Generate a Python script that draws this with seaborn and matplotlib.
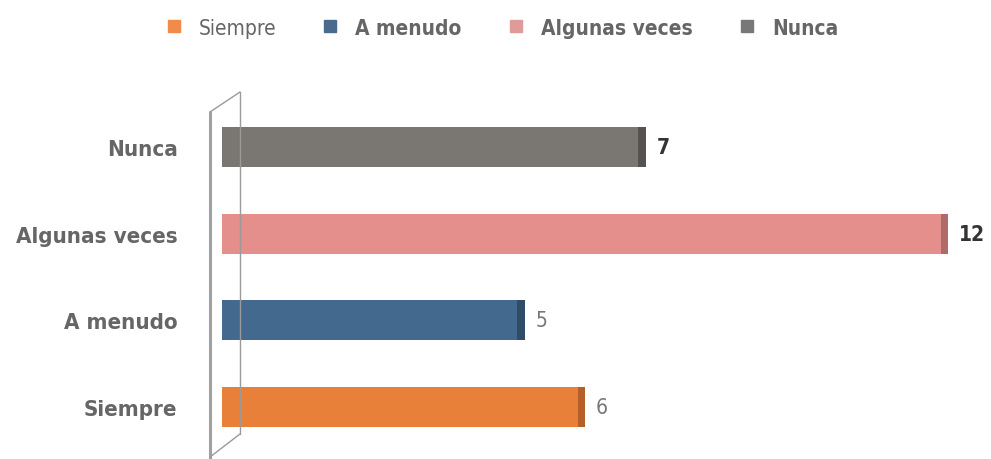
import matplotlib
matplotlib.use("Agg")
import matplotlib.pyplot as plt
from matplotlib.lines import Line2D
import seaborn as sns
import pandas as pd

# Data (top to bottom as drawn)
categories = ["Nunca", "Algunas veces", "A menudo", "Siempre"]
values = [7, 12, 5, 6]
legend_order = ["Siempre", "A menudo", "Algunas veces", "Nunca"]

bar_colors = {"Siempre": "#E8803A", "A menudo": "#44698E",
              "Algunas veces": "#E48F8C", "Nunca": "#7A7672"}
side_colors = {"Siempre": "#B5602A", "A menudo": "#2F4B66",
               "Algunas veces": "#B06A68", "Nunca": "#55524F"}
legend_colors = {"Siempre": "#F28A4B", "A menudo": "#4A6C8C",
                 "Algunas veces": "#E09A98", "Nunca": "#787878"}

sns.set_style("white")
plt.rcParams["font.family"] = ["DejaVu Sans"]
plt.rcParams["font.stretch"] = "condensed"

df = pd.DataFrame({"categoria": categories, "valor": values})

fig = plt.figure(figsize=(9.91, 4.6), dpi=100)
ax = fig.add_axes([222 / 991, 0.0, 1 - 222 / 991 - 0.02, 1 - 96 / 460])

bar_h = 0.46
sns.barplot(data=df, y="categoria", x="valor", hue="categoria", order=categories,
            palette=bar_colors, width=bar_h, legend=False, ax=ax, saturation=1,
            linewidth=0)

# darker end face to fake the 3D look
dx = 0.12
for i, (cat, v) in enumerate(zip(categories, values)):
    ax.barh(i, dx, left=v - dx, height=bar_h, color=side_colors[cat],
            linewidth=0, zorder=3)
    bold = v in (7, 12)
    ax.text(v + 0.18, i, str(v), va="center", ha="left", fontsize=15,
            color="#333333" if bold else "#777777",
            fontweight="bold" if bold else "normal")

ax.set_xlim(0, (991 - 222 - 0.02 * 991) / 60.5)
ax.set_ylim(3.6, -0.6)
ax.set_xlabel("")
ax.set_ylabel("")
ax.set_xticks([])
ax.tick_params(axis="y", length=0, pad=32, labelsize=16, labelcolor="#666666")
for lbl in ax.get_yticklabels():
    lbl.set_fontweight("bold")
for s in ax.spines.values():
    s.set_visible(False)

# back wall lines
def fig_line(x0, y0, x1, y1, lw, c):
    fig.add_artist(Line2D([x0 / 991, x1 / 991], [1 - y0 / 460, 1 - y1 / 460],
                          lw=lw, color=c, transform=fig.transFigure))

fig_line(210, 113, 210, 460, 2.2, "#A0A0A0")
fig_line(240, 93, 240, 435, 1.0, "#9A9A9A")
fig_line(210, 113, 240, 93, 1.0, "#9A9A9A")
fig_line(240, 435, 210, 458, 1.0, "#9A9A9A")

handles = [Line2D([], [], marker="s", linestyle="", markersize=9,
                  color=legend_colors[c]) for c in legend_order]
leg = fig.legend(handles, legend_order, loc="upper center", bbox_to_anchor=(0.5, 1.0),
                 ncol=4, frameon=False, fontsize=15, handletextpad=0.2,
                 columnspacing=1.6)
for t, c in zip(leg.get_texts(), legend_order):
    t.set_color("#666666")
    if c != "Siempre":
        t.set_fontweight("bold")

fig.savefig("out.png", dpi=100)
